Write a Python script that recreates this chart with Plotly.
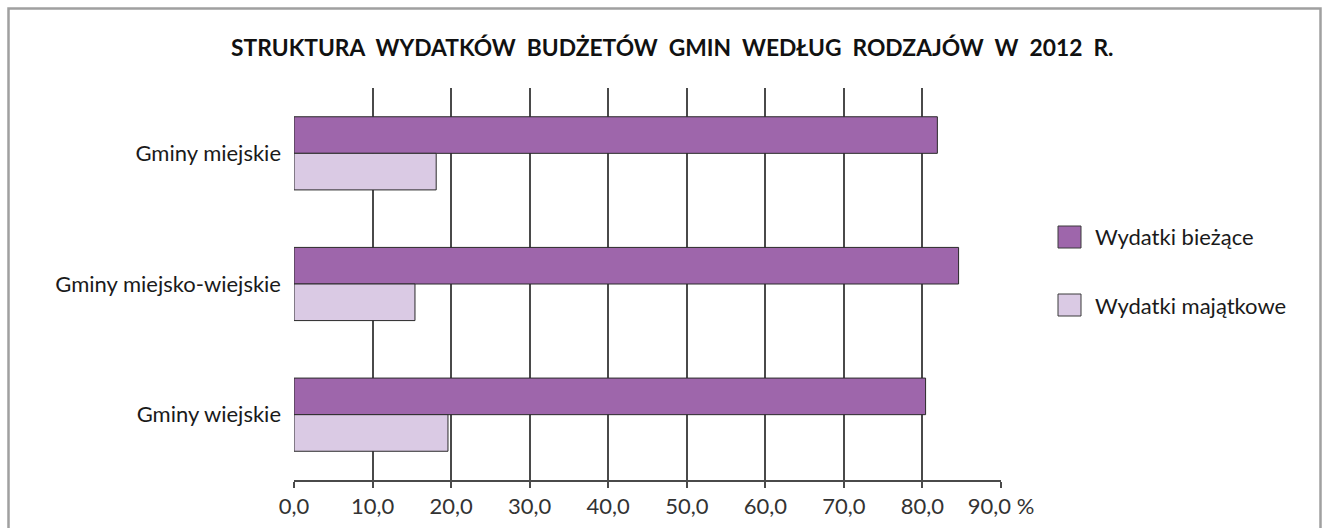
import plotly.graph_objects as go

categories = ["Gminy miejskie", "Gminy miejsko-wiejskie", "Gminy wiejskie"]
biezace = [81.9, 84.6, 80.4]
majatkowe = [18.1, 15.4, 19.6]
series_names = ["Wydatki bieżące", "Wydatki majątkowe"]
tick_vals = [0, 10, 20, 30, 40, 50, 60, 70, 80, 90]
tick_text = ["0,0", "10,0", "20,0", "30,0", "40,0", "50,0", "60,0", "70,0", "80,0", "90,0 %"]
title_text = "STRUKTURA  WYDATKÓW  BUDŻETÓW  GMIN  WEDŁUG  RODZAJÓW  W  2012  R."

colors = ["#9E66AB", "#DACAE4"]
FONT = "Lato, 'Open Sans', sans-serif"

fig = go.Figure()
for name, vals, col in zip(series_names, [biezace, majatkowe], colors):
    fig.add_trace(go.Bar(
        y=categories, x=vals, orientation="h", name=name,
        marker=dict(color=col, line=dict(color="#2a2a2a", width=1)),
        showlegend=False, hoverinfo="x+y",
    ))

W, H = 1329, 528
L, R, T, B = 294, 328, 88, 48
pw, ph = W - L - R, H - T - B

def px(x):
    return (x - L) / pw

def py(y):
    return 1 - (y - T) / ph

shapes = []
# outer frame
shapes.append(dict(type="rect", xref="paper", yref="paper",
                   x0=px(8.5), x1=px(1320.5), y0=py(540), y1=py(8.5),
                   line=dict(color="#A0A0A0", width=2.5), fillcolor="rgba(0,0,0,0)", layer="below"))
annotations = []
# manual legend
leg_y = [237, 305]
for name, col, yy in zip(series_names, colors, leg_y):
    shapes.append(dict(type="rect", xref="paper", yref="paper",
                       x0=px(1058), x1=px(1081), y0=py(yy + 11), y1=py(yy - 11),
                       fillcolor=col, line=dict(color="#3a3a3a", width=1)))
    annotations.append(dict(xref="paper", yref="paper", x=px(1093), y=py(yy),
                            text=name, showarrow=False, xanchor="left", yanchor="middle",
                            font=dict(family=FONT, size=22, color="#1a1a1a")))
annotations.append(dict(xref="paper", yref="paper", x=px(672), y=py(47),
                        text="<b>" + title_text.replace(" ", "\u00a0") + "</b>",
                        showarrow=False, xanchor="center", yanchor="middle",
                        font=dict(family=FONT, size=22.8, color="#111111")))

fig.update_layout(
    width=W, height=H,
    margin=dict(l=L, r=R, t=T, b=B, autoexpand=False),
    paper_bgcolor="white", plot_bgcolor="white",
    barmode="group", bargap=0.44, bargroupgap=0,
    shapes=shapes, annotations=annotations,
    font=dict(family=FONT, color="#222222"),
    xaxis=dict(range=[0, 90], tickvals=tick_vals, ticktext=tick_text,
               showgrid=True, gridcolor="#4a4a4a", gridwidth=1.5,
               zeroline=False, showline=True, linecolor="#4a4a4a", linewidth=1.5,
               ticks="outside", ticklen=6, tickcolor="#4a4a4a", tickwidth=1.5,
               tickfont=dict(family=FONT, size=22, color="#333333")),
    yaxis=dict(autorange="reversed", showgrid=False, zeroline=False,
               showline=False, ticks="", ticklabelstandoff=12,
               tickfont=dict(family=FONT, size=22, color="#1a1a1a")),
)

fig.write_html("out.html", config={"displayModeBar": False},
               post_script="document.body.style.margin='0';document.body.style.overflow='hidden';")
